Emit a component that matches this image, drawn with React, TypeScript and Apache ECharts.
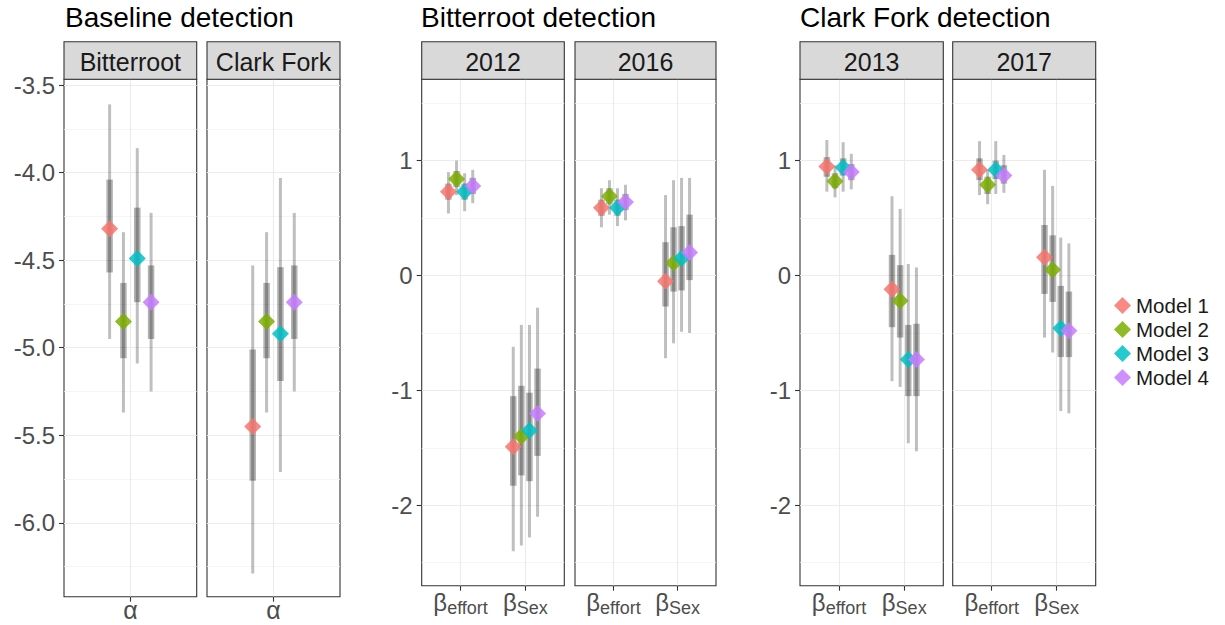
import React, { useEffect, useRef } from 'react';
import * as echarts from 'echarts';

// ---------- data ----------
const models = ['Model 1', 'Model 2', 'Model 3', 'Model 4'];
const modelColors = ['#F8766D', '#7CAE00', '#00BFC4', '#C77CFF'];

const groupTitles = ['Baseline detection', 'Bitterroot detection', 'Clark Fork detection'];
const facetLabels = ['Bitterroot', 'Clark Fork', '2012', '2016', '2013', '2017'];
const alphaParams = ['α'];
const betaParams = ['effort', 'Sex'];

const baselineTicks = [-6.0, -5.5, -5.0, -4.5, -4.0, -3.5];
const baselineMinor = [-6.25, -5.75, -5.25, -4.75, -4.25, -3.75];
const betaTicks = [-2, -1, 0, 1];
const betaMinor = [-2.5, -1.5, -0.5, 0.5, 1.5];
const baselineRange = [-6.422, -3.467];
const betaRange = [-2.7, 1.708];

// rows per model: [mean, lo95, lo50, hi50, hi95]
const bitterrootAlpha = [
  [-4.32, -4.95, -4.57, -4.04, -3.61],
  [-4.85, -5.37, -5.06, -4.63, -4.34],
  [-4.49, -5.09, -4.74, -4.2, -3.86],
  [-4.74, -5.25, -4.95, -4.53, -4.23],
];
const clarkForkAlpha = [
  [-5.45, -6.29, -5.76, -5.01, -4.53],
  [-4.85, -5.37, -5.06, -4.63, -4.34],
  [-4.92, -5.71, -5.19, -4.54, -4.03],
  [-4.74, -5.25, -4.95, -4.53, -4.23],
];
const effort2012 = [
  [0.73, 0.54, 0.66, 0.8, 0.9],
  [0.84, 0.7, 0.77, 0.91, 1.0],
  [0.73, 0.56, 0.66, 0.8, 0.89],
  [0.78, 0.63, 0.71, 0.85, 0.92],
];
const sex2012 = [
  [-1.49, -2.4, -1.83, -1.05, -0.62],
  [-1.4, -2.35, -1.74, -0.96, -0.43],
  [-1.35, -2.28, -1.79, -1.02, -0.43],
  [-1.2, -2.1, -1.57, -0.81, -0.28],
];
const effort2016 = [
  [0.59, 0.42, 0.52, 0.66, 0.76],
  [0.69, 0.53, 0.62, 0.76, 0.83],
  [0.59, 0.43, 0.52, 0.66, 0.76],
  [0.64, 0.48, 0.57, 0.71, 0.79],
];
const sex2016 = [
  [-0.05, -0.72, -0.27, 0.29, 0.7],
  [0.11, -0.59, -0.14, 0.42, 0.83],
  [0.15, -0.49, -0.13, 0.43, 0.85],
  [0.2, -0.5, -0.04, 0.53, 0.85],
];
const effort2013 = [
  [0.95, 0.73, 0.86, 1.03, 1.18],
  [0.82, 0.68, 0.76, 0.89, 0.96],
  [0.94, 0.73, 0.87, 1.02, 1.16],
  [0.9, 0.75, 0.83, 0.97, 1.06],
];
const sex2013 = [
  [-0.12, -0.92, -0.45, 0.18, 0.69],
  [-0.22, -0.97, -0.54, 0.09, 0.58],
  [-0.73, -1.46, -1.05, -0.43, 0.1],
  [-0.73, -1.53, -1.05, -0.42, 0.07],
];
const effort2017 = [
  [0.92, 0.7, 0.83, 1.02, 1.17],
  [0.79, 0.62, 0.71, 0.86, 0.92],
  [0.92, 0.71, 0.84, 1.0, 1.17],
  [0.87, 0.72, 0.8, 0.96, 1.05],
];
const sex2017 = [
  [0.16, -0.54, -0.16, 0.44, 0.92],
  [0.05, -0.67, -0.23, 0.35, 0.78],
  [-0.46, -1.18, -0.71, -0.09, 0.33],
  [-0.48, -1.2, -0.71, -0.14, 0.28],
];

// ---------- layout ----------
const FONT = 'Liberation Sans, Arial, sans-serif';
const STRIP_TOP = 41.7;
const PLOT_TOP = 79.3;
const titleLefts = [65, 421, 800];
const facets = [
  { group: 0, left: 64, width: 132.7, bottom: 596.7, params: alphaParams, data: [bitterrootAlpha], showY: true },
  { group: 0, left: 207, width: 133, bottom: 596.7, params: alphaParams, data: [clarkForkAlpha], showY: false },
  { group: 1, left: 421.7, width: 142.6, bottom: 585.7, params: betaParams, data: [effort2012, sex2012], showY: true },
  { group: 1, left: 575, width: 141, bottom: 585.7, params: betaParams, data: [effort2016, sex2016], showY: false },
  { group: 2, left: 800, width: 143.3, bottom: 585.7, params: betaParams, data: [effort2013, sex2013], showY: true },
  { group: 2, left: 952.7, width: 143, bottom: 585.7, params: betaParams, data: [effort2017, sex2017], showY: false },
];
const dodgeWidth = 0.5;
const dodge = (m: number) => (m - (models.length - 1) / 2) * (dodgeWidth / models.length);

export default function App() {
  const ref = useRef<HTMLDivElement>(null);
  useEffect(() => {
    if (!ref.current) return;
    const chart = echarts.init(ref.current, null, { renderer: 'svg' });

    const grids: any[] = [];
    const xAxes: any[] = [];
    const yAxes: any[] = [];
    const yMinorAxes: any[] = [];
    const series: any[] = [];
    const graphics: any[] = [];

    facets.forEach((f, i) => {
      const isBase = f.group === 0;
      const range = isBase ? baselineRange : betaRange;
      const ticks = isBase ? baselineTicks : betaTicks;
      const minor = isBase ? baselineMinor : betaMinor;
      const cats = f.params.map((_, k) => k + 1);
      grids.push({
        left: f.left,
        top: PLOT_TOP,
        width: f.width,
        height: f.bottom - PLOT_TOP,
        show: true,
        borderColor: '#333333',
        borderWidth: 1.1,
        backgroundColor: 'transparent',
      });
      xAxes.push({
        type: 'value',
        gridIndex: i,
        position: 'bottom',
        min: 0.4,
        max: f.params.length + 0.6,
        axisLine: { show: false, onZero: false },
        axisTick: { show: true, length: 5, customValues: cats, lineStyle: { color: '#333333', width: 1.1 } },
        axisLabel: {
          customValues: cats,
          margin: isBase ? 2 : 5,
          color: '#4D4D4D',
          fontFamily: FONT,
          formatter: (v: number) => {
            const p = f.params[Math.round(v) - 1];
            if (p === undefined) return '';
            return isBase ? '{a|' + p + '}' : '{b|β}{s|' + p + '}';
          },
          rich: {
            a: { fontSize: 25, lineHeight: 22, color: '#4D4D4D', fontFamily: FONT },
            b: { fontSize: 24, color: '#4D4D4D', fontFamily: FONT, verticalAlign: 'top' },
            s: { fontSize: 18, color: '#4D4D4D', fontFamily: FONT, verticalAlign: 'bottom', padding: [8, 0, 0, 0] },
          },
        },
        splitLine: { show: true, lineStyle: { color: '#EBEBEB', width: 1.1 } },
      });
      yAxes.push({
        type: 'value',
        gridIndex: i,
        min: range[0],
        max: range[1],
        axisLine: { show: false, onZero: false },
        axisTick: { show: f.showY, length: 5, customValues: ticks, lineStyle: { color: '#333333', width: 1.1 } },
        axisLabel: {
          show: f.showY,
          customValues: ticks,
          margin: 9,
          fontSize: 24,
          color: '#4D4D4D',
          fontFamily: FONT,
          formatter: (v: number) => (isBase ? v.toFixed(1) : String(Math.round(v))),
        },
        splitLine: { show: true, lineStyle: { color: '#EBEBEB', width: 1.1 } },
      });
      yMinorAxes.push({
        type: 'value',
        gridIndex: i,
        min: range[0],
        max: range[1],
        axisLine: { show: false, onZero: false },
        axisTick: { show: false, customValues: minor },
        axisLabel: { show: false, customValues: minor },
        splitLine: { show: true, lineStyle: { color: '#F2F2F2', width: 0.8 } },
      });

      // intervals
      const intervalData: number[][] = [];
      f.data.forEach((rows, k) => {
        rows.forEach((r, m) => {
          intervalData.push([k + 1 + dodge(m), r[1], r[2], r[3], r[4]]);
        });
      });
      series.push({
        type: 'custom',
        xAxisIndex: i,
        yAxisIndex: i,
        z: 2,
        silent: true,
        encode: { x: 0, y: [1, 2, 3, 4] },
        data: intervalData,
        renderItem: (params: any, api: any) => {
          const x = api.value(0);
          const a = api.coord([x, api.value(1)]);
          const b = api.coord([x, api.value(4)]);
          const c = api.coord([x, api.value(2)]);
          const d = api.coord([x, api.value(3)]);
          return {
            type: 'group',
            children: [
              { type: 'line', shape: { x1: a[0], y1: a[1], x2: b[0], y2: b[1] }, style: { stroke: 'rgba(0,0,0,0.25)', lineWidth: 3 } },
              { type: 'line', shape: { x1: c[0], y1: c[1], x2: d[0], y2: d[1] }, style: { stroke: 'rgba(0,0,0,0.3)', lineWidth: 6.5 } },
            ],
          };
        },
      });

      models.forEach((name, m) => {
        series.push({
          type: 'scatter',
          name,
          xAxisIndex: i,
          yAxisIndex: i,
          z: 3,
          symbol: 'diamond',
          symbolSize: 17,
          itemStyle: { color: modelColors[m], opacity: 0.85 },
          data: f.data.map((rows, k) => [k + 1 + dodge(m), rows[m][0]]),
        });
      });

      // strip
      graphics.push({
        type: 'rect',
        shape: { x: f.left, y: STRIP_TOP, width: f.width, height: PLOT_TOP - STRIP_TOP },
        style: { fill: '#D9D9D9', stroke: '#333333', lineWidth: 1.1 },
        z: 10,
      });
      graphics.push({
        type: 'text',
        x: f.left + f.width / 2,
        y: (STRIP_TOP + PLOT_TOP) / 2 + 1,
        style: {
          text: facetLabels[i],
          textAlign: 'center',
          textVerticalAlign: 'middle',
          fontSize: 25,
          fill: '#1A1A1A',
          fontFamily: FONT,
        },
        z: 11,
      });
    });

    chart.setOption({
      animation: false,
      backgroundColor: '#FFFFFF',
      title: groupTitles.map((t, g) => ({
        text: t,
        left: titleLefts[g],
        top: 3,
        padding: 0,
        textStyle: { fontSize: 28, fontWeight: 'normal', color: '#000000', fontFamily: FONT },
      })),
      legend: {
        data: models,
        orient: 'vertical',
        left: 1114,
        top: 295,
        icon: 'diamond',
        itemWidth: 17,
        itemHeight: 17,
        itemGap: 3,
        padding: 0,
        selectedMode: false,
        textStyle: { fontSize: 20.5, lineHeight: 20, color: '#1A1A1A', fontFamily: FONT },
      },
      grid: grids,
      xAxis: xAxes,
      yAxis: [...yAxes, ...yMinorAxes],
      series,
      graphic: graphics,
    });
    return () => chart.dispose();
  }, []);
  return <div ref={ref} style={{ position: 'fixed', left: 0, top: 0, width: 1225, height: 625 }} />;
}
